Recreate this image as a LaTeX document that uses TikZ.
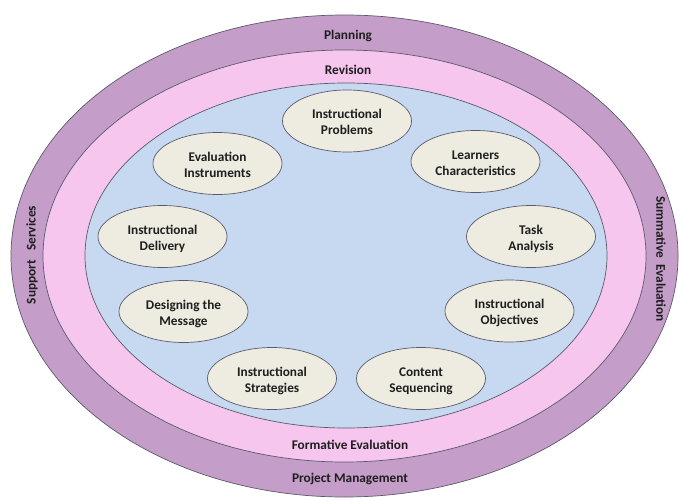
\documentclass[tikz,border=0pt]{standalone}
\usepackage{fontspec}
\setmainfont{Carlito}
\usetikzlibrary{shapes.geometric}
\definecolor{bandpurple}{RGB}{196,158,201}
\definecolor{bandpink}{RGB}{246,198,238}
\definecolor{coreblue}{RGB}{198,217,240}
\definecolor{stepbeige}{RGB}{238,236,225}
\definecolor{edgegray}{RGB}{90,90,105}
\definecolor{labeltext}{RGB}{30,30,30}
\newcommand\mytwolines[2]{\rule{0pt}{15pt}#1\\#2\rule[-3.5pt]{0pt}{3.5pt}}
\tikzset{
  ring/.style={ellipse, draw=edgegray, line width=0.7pt, inner sep=0pt},
  stepbox/.style={ellipse, draw=edgegray, line width=0.7pt, fill=stepbeige, inner sep=0pt,
    minimum width=129pt, minimum height=62pt, align=center, text=labeltext,
    font=\fontsize{13.3}{16}\selectfont\bfseries},
  bandlabel/.style={inner sep=0pt, text=labeltext, font=\fontsize{13.3}{16}\selectfont\bfseries}
}
\begin{document}
\begin{tikzpicture}[x=1pt,y=-1pt]
\useasboundingbox (0,0) rectangle (679,500);
\node[ring, fill=bandpurple, minimum width=667pt, minimum height=482pt] (outer) at (344.5,256) {};
\node[ring, fill=bandpink, minimum width=603pt, minimum height=412pt] (middle) at (344.5,256) {};
\node[ring, fill=coreblue, minimum width=522pt, minimum height=345pt] (core) at (346,255.5) {};

\node[bandlabel] (planning) at (348,36) {Planning};
\node[bandlabel] (revision) at (348,69.5) {Revision};
\node[bandlabel] (formative) at (350,445) {Formative Evaluation};
\node[bandlabel] (pm) at (350,479) {Project Management};
\node[bandlabel, rotate=90] (support) at (32,255) {Support\ \ \ Services};
\node[bandlabel, rotate=-90] (summative) at (661,259) {Summative\ \ Evaluation};

\node[stepbox] (problems) at (347,121) {\mytwolines{Instructional}{Problems}};
\node[stepbox] (learners) at (475.5,161.5) {\mytwolines{Learners}{Characteristics}};
\node[stepbox] (task) at (531,236.5) {\mytwolines{Task}{Analysis}};
\node[stepbox] (objectives) at (509.5,311) {\mytwolines{Instructional}{Objectives}};
\node[stepbox] (sequencing) at (421,378.5) {\mytwolines{Content}{Sequencing}};
\node[stepbox] (strategies) at (272,378.5) {\mytwolines{Instructional}{Strategies}};
\node[stepbox] (message) at (183.5,311.5) {\mytwolines{Designing the}{Message}};
\node[stepbox] (delivery) at (162.5,236.5) {\mytwolines{Instructional}{Delivery}};
\node[stepbox] (instruments) at (217.5,163.5) {\mytwolines{Evaluation}{Instruments}};
\end{tikzpicture}
\end{document}
